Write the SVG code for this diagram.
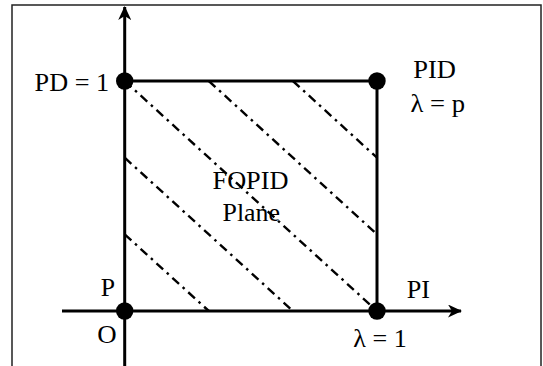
<svg xmlns="http://www.w3.org/2000/svg" width="543" height="366" viewBox="0 0 543 366">
<style>
.t{font-family:"Liberation Serif","Times New Roman",serif;font-size:25.5px;fill:#000}
.ax{stroke:#000;stroke-width:3;fill:none}
.ed{stroke:#000;stroke-width:3;fill:none}
.h{stroke:#000;stroke-width:2.4;fill:none;stroke-dasharray:9 5 2.5 5}
.dot{fill:#000}
</style>
<defs>
<marker id="ah" viewBox="0 0 14 13" refX="13" refY="6.5" markerWidth="14" markerHeight="13" markerUnits="userSpaceOnUse" orient="auto">
<path d="M0,0 L14,6.5 L0,13 L4,6.5 Z" fill="#000"/>
</marker>
</defs>
<rect x="12" y="5" width="529" height="380" fill="#fff" stroke="#222" stroke-width="1.5"/>
<g id="connectors">
<line class="ax" x1="62" y1="311" x2="461" y2="311" marker-end="url(#ah)"/>
<line class="ax" x1="124.7" y1="366" x2="124.7" y2="7" marker-end="url(#ah)"/>
<line class="ed" x1="124.7" y1="81" x2="377" y2="81"/>
<line class="ed" x1="377" y1="81" x2="377" y2="311"/>
<g id="hatch">
<line class="h" x1="292.9" y1="81" x2="377" y2="157.7"/>
<line class="h" x1="208.8" y1="81" x2="377" y2="234.3"/>
<line class="h" x1="124.7" y1="81" x2="377" y2="311"/>
<line class="h" x1="124.7" y1="157.7" x2="292.9" y2="311"/>
<line class="h" x1="124.7" y1="234.3" x2="208.8" y2="311"/>
</g>
</g>
<g id="node-PD">
<circle class="dot" cx="124.7" cy="81" r="8.7"/>
<text class="t" x="34.6" y="90.7" textLength="74.5" lengthAdjust="spacingAndGlyphs">PD = 1</text>
</g>
<g id="node-PID">
<circle class="dot" cx="377" cy="81" r="8.7"/>
<text class="t" x="413.3" y="78.3" textLength="42.7" lengthAdjust="spacingAndGlyphs">PID</text>
<text class="t" x="410.5" y="112" textLength="54.5" lengthAdjust="spacingAndGlyphs">λ = p</text>
</g>
<g id="node-O">
<circle class="dot" cx="124.7" cy="311" r="8.7"/>
<text class="t" x="100.7" y="296" textLength="14.3" lengthAdjust="spacingAndGlyphs">P</text>
<text class="t" x="97.3" y="343.3" textLength="19.4" lengthAdjust="spacingAndGlyphs">O</text>
</g>
<g id="node-PI">
<circle class="dot" cx="377" cy="311" r="8.7"/>
<text class="t" x="406.7" y="298.3" textLength="23.3" lengthAdjust="spacingAndGlyphs">PI</text>
<text class="t" x="353.3" y="347" textLength="53.4" lengthAdjust="spacingAndGlyphs">λ = 1</text>
</g>
<g id="node-FOPID">
<text class="t" x="212.5" y="188.5" textLength="76" lengthAdjust="spacingAndGlyphs">FOPID</text>
<text class="t" x="222.5" y="221" textLength="57.5" lengthAdjust="spacingAndGlyphs">Plane</text>
</g>
</svg>
